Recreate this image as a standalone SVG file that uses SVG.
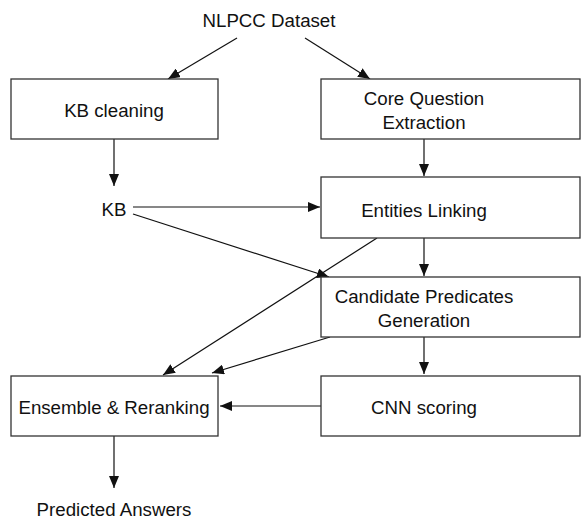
<svg xmlns="http://www.w3.org/2000/svg" width="581" height="519" viewBox="0 0 581 519">
<style>
.box{fill:#fff;stroke:#333;stroke-width:1.3}
.t{font-family:"Liberation Sans",Arial,sans-serif;font-size:18.7px;fill:#111;text-anchor:middle}
.c{stroke:#111;stroke-width:1.2;fill:none;marker-end:url(#ah)}
</style>
<defs>
<marker id="ah" viewBox="0 0 12 10" refX="12" refY="5" markerWidth="12" markerHeight="10" markerUnits="userSpaceOnUse" orient="auto">
<path d="M0,0 L12,5 L0,10 Z" fill="#111"/>
</marker>
</defs>
<rect width="581" height="519" fill="#fff"/>
<g id="connectors">
<line class="c" x1="237" y1="38" x2="168" y2="79"/>
<line class="c" x1="305" y1="38" x2="370" y2="79"/>
<line class="c" x1="114" y1="139" x2="114" y2="186"/>
<line class="c" x1="424" y1="139" x2="424" y2="176"/>
<line class="c" x1="133" y1="207" x2="320" y2="207"/>
<line class="c" x1="133" y1="214" x2="329" y2="277"/>
<line class="c" x1="424" y1="238" x2="424" y2="276"/>
<line class="c" x1="377" y1="238" x2="163" y2="375"/>
<line class="c" x1="330" y1="337" x2="212" y2="373"/>
<line class="c" x1="424" y1="337" x2="424" y2="374"/>
<line class="c" x1="321" y1="406" x2="220" y2="406"/>
<line class="c" x1="114" y1="436" x2="114" y2="488"/>
</g>
<g id="nlpcc"><text class="t" x="269" y="27">NLPCC Dataset</text></g>
<g id="kbcleaning"><rect class="box" x="11" y="79" width="207" height="60"/><text class="t" x="114" y="117">KB cleaning</text></g>
<g id="core"><rect class="box" x="321" y="79" width="259" height="60"/><text class="t" x="424" y="105">Core Question</text><text class="t" x="424" y="129">Extraction</text></g>
<g id="kb"><text class="t" x="114" y="216">KB</text></g>
<g id="entities"><rect class="box" x="321" y="177" width="259" height="61"/><text class="t" x="424" y="217">Entities Linking</text></g>
<g id="candidate"><rect class="box" x="321" y="277" width="259" height="60"/><text class="t" x="424" y="303">Candidate Predicates</text><text class="t" x="424" y="327">Generation</text></g>
<g id="ensemble"><rect class="box" x="11" y="376" width="207" height="60"/><text class="t" x="114" y="414">Ensemble &amp; Reranking</text></g>
<g id="cnn"><rect class="box" x="321" y="376" width="259" height="60"/><text class="t" x="424" y="414">CNN scoring</text></g>
<g id="predicted"><text class="t" x="114" y="516">Predicted Answers</text></g>
</svg>
